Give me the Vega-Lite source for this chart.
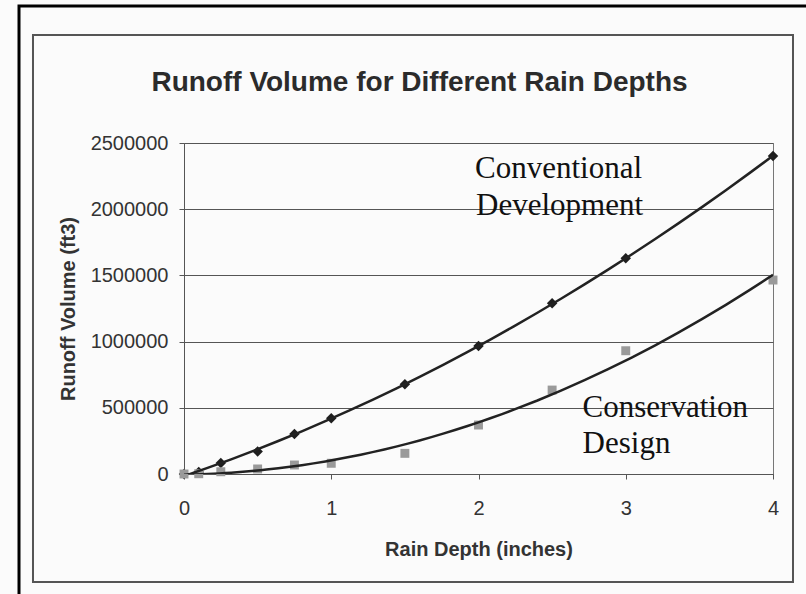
{
  "$schema": "https://vega.github.io/schema/vega-lite/v6.json",
  "width": 589,
  "height": 331,
  "autosize": {"type": "none"},
  "padding": {"left": 184, "top": 143, "right": 33, "bottom": 120},
  "background": "#fbfbfb",
  "config": {
    "font": "Liberation Sans",
    "view": {"stroke": "#777", "strokeWidth": 1}
  },
  "title": {
    "text": "Runoff Volume for Different Rain Depths",
    "font": "Liberation Sans",
    "fontSize": 28,
    "fontWeight": "bold",
    "color": "#2b2b2b",
    "anchor": "middle",
    "frame": "group",
    "dx": -59,
    "offset": -93
  },
  "datasets": {
    "runoff": [
      {"depth": 0, "volume": 0, "series": "Conventional Development"},
      {"depth": 0.1, "volume": 15000, "series": "Conventional Development"},
      {"depth": 0.25, "volume": 83000, "series": "Conventional Development"},
      {"depth": 0.5, "volume": 170000, "series": "Conventional Development"},
      {"depth": 0.75, "volume": 302000, "series": "Conventional Development"},
      {"depth": 1, "volume": 421000, "series": "Conventional Development"},
      {"depth": 1.5, "volume": 677000, "series": "Conventional Development"},
      {"depth": 2, "volume": 967000, "series": "Conventional Development"},
      {"depth": 2.5, "volume": 1289000, "series": "Conventional Development"},
      {"depth": 3, "volume": 1629000, "series": "Conventional Development"},
      {"depth": 4, "volume": 2402000, "series": "Conventional Development"},
      {"depth": 0, "volume": 0, "series": "Conservation Design"},
      {"depth": 0.1, "volume": 2000, "series": "Conservation Design"},
      {"depth": 0.25, "volume": 17000, "series": "Conservation Design"},
      {"depth": 0.5, "volume": 38000, "series": "Conservation Design"},
      {"depth": 0.75, "volume": 68000, "series": "Conservation Design"},
      {"depth": 1, "volume": 81000, "series": "Conservation Design"},
      {"depth": 1.5, "volume": 156000, "series": "Conservation Design"},
      {"depth": 2, "volume": 370000, "series": "Conservation Design"},
      {"depth": 2.5, "volume": 634000, "series": "Conservation Design"},
      {"depth": 3, "volume": 931000, "series": "Conservation Design"},
      {"depth": 4, "volume": 1465000, "series": "Conservation Design"}
    ],
    "labels": [
      {"depth": 1.976, "volume": 2235000, "label": "Conventional"},
      {"depth": 1.983, "volume": 1956000, "label": "Development"},
      {"depth": 2.707, "volume": 430000, "label": "Conservation"},
      {"depth": 2.707, "volume": 158000, "label": "Design"}
    ],
    "frames": [
      {"frame": "inner", "x0": -1.0255, "x1": 4.1358, "y0": 3315800, "y1": -815700},
      {"frame": "outer", "x0": -1.1205, "x1": 4.6, "y0": 3534800, "y1": -2000000}
    ]
  },
  "layer": [
    {
      "data": {"name": "runoff"},
      "mark": {"type": "point", "filled": true, "opacity": 1},
      "encoding": {
        "x": {
          "field": "depth",
          "type": "quantitative",
          "scale": {"domain": [0, 4], "nice": false},
          "axis": {
            "title": "Rain Depth (inches)",
            "values": [0, 1, 2, 3, 4],
            "format": "d",
            "grid": false,
            "labelFlush": false,
            "domainColor": "#555",
            "tickColor": "#555",
            "tickSize": 5,
            "labelFontSize": 20,
            "labelColor": "#333",
            "labelPadding": 19,
            "titleFontSize": 20,
            "titleFontWeight": "bold",
            "titleColor": "#333",
            "titlePadding": 21
          }
        },
        "y": {
          "field": "volume",
          "type": "quantitative",
          "scale": {"domain": [0, 2500000], "nice": false},
          "axis": {
            "title": "Runoff Volume (ft3)",
            "values": [0, 500000, 1000000, 1500000, 2000000, 2500000],
            "format": "d",
            "grid": true,
            "gridColor": "#555",
            "gridWidth": 1,
            "domainColor": "#555",
            "tickColor": "#555",
            "tickSize": 5,
            "labelFontSize": 20,
            "labelColor": "#333",
            "labelPadding": 11,
            "titleFontSize": 20,
            "titleFontWeight": "bold",
            "titleColor": "#333",
            "titlePadding": 12
          }
        },
        "shape": {
          "field": "series",
          "type": "nominal",
          "scale": {"domain": ["Conventional Development", "Conservation Design"], "range": ["diamond", "square"]},
          "legend": null
        },
        "color": {
          "field": "series",
          "type": "nominal",
          "scale": {"domain": ["Conventional Development", "Conservation Design"], "range": ["#1e1e1e", "#9a9a9a"]},
          "legend": null
        },
        "size": {
          "field": "series",
          "type": "nominal",
          "scale": {"domain": ["Conventional Development", "Conservation Design"], "range": [110, 80]},
          "legend": null
        }
      }
    },
    {
      "data": {"name": "runoff"},
      "transform": [
        {"regression": "volume", "on": "depth", "groupby": ["series"], "method": "poly", "order": 2, "extent": [0, 4]}
      ],
      "mark": {"type": "line", "color": "#222", "strokeWidth": 2.5, "clip": true},
      "encoding": {
        "x": {"field": "depth", "type": "quantitative"},
        "y": {"field": "volume", "type": "quantitative"},
        "detail": {"field": "series", "type": "nominal"}
      }
    },
    {
      "data": {"name": "labels"},
      "mark": {"type": "text", "font": "Liberation Serif", "fontSize": 31, "align": "left", "baseline": "alphabetic", "color": "#111"},
      "encoding": {
        "x": {"field": "depth", "type": "quantitative"},
        "y": {"field": "volume", "type": "quantitative"},
        "text": {"field": "label", "type": "nominal"}
      }
    },
    {
      "data": {"name": "frames"},
      "mark": {"type": "rect", "filled": false, "clip": false},
      "encoding": {
        "x": {"field": "x0", "type": "quantitative"},
        "x2": {"field": "x1"},
        "y": {"field": "y0", "type": "quantitative"},
        "y2": {"field": "y1"},
        "stroke": {
          "field": "frame",
          "type": "nominal",
          "scale": {"domain": ["inner", "outer"], "range": ["#555555", "#000000"]},
          "legend": null
        },
        "strokeWidth": {
          "field": "frame",
          "type": "nominal",
          "scale": {"domain": ["inner", "outer"], "range": [2, 3]},
          "legend": null
        }
      }
    }
  ]
}
